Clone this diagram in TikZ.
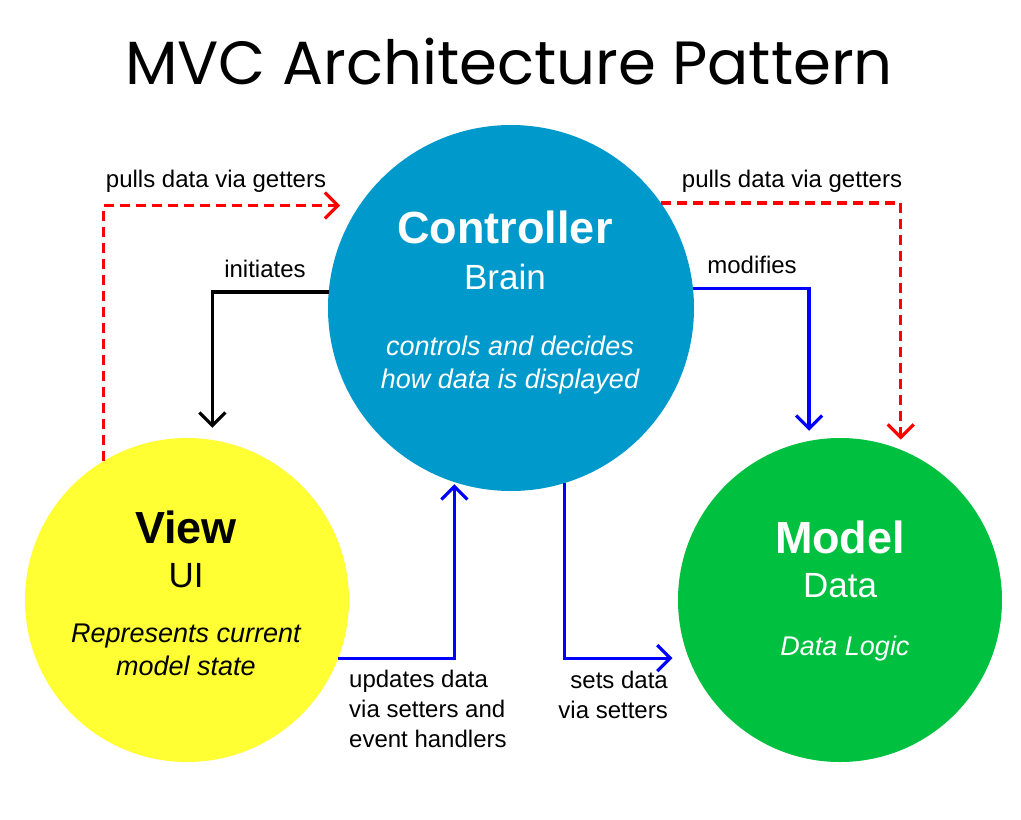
\documentclass[tikz,border=0pt]{standalone}
\usepackage{fontspec}
\setmainfont{Liberation Sans}
\newfontfamily\titlefont{Poppins}
\usetikzlibrary{arrows.meta}
\definecolor{ctrlblue}{RGB}{0,153,204}
\definecolor{viewyellow}{RGB}{255,255,51}
\definecolor{modelgreen}{RGB}{0,192,64}
\definecolor{arrowblue}{RGB}{0,0,255}
\definecolor{arrowred}{RGB}{255,0,0}
\tikzset{
  blob/.style={circle, inner sep=0pt, draw=none},
  conn/.style={line width=3.2pt, -{Straight Barb[length=13pt,width=26pt]}},
  redconn/.style={conn, arrowred, dash pattern=on 10pt off 6pt},
  blueconn/.style={conn, arrowblue},
  blackconn/.style={conn, black},
  lbl/.style={font=\fontsize{24}{30}\selectfont, text=black, inner sep=0pt},
  bigname/.style={font=\fontsize{45}{50}\bfseries\selectfont, inner sep=0pt, anchor=base},
  subname/.style={font=\fontsize{35}{40}\selectfont, inner sep=0pt, anchor=base},
  desc/.style={font=\fontsize{27}{33}\itshape\selectfont, inner sep=0pt, anchor=base, align=center},
}
\begin{document}
\begin{tikzpicture}[x=1pt,y=-1pt]
\useasboundingbox (0,0) rectangle (1021,820);
\fill[white] (0,0) rectangle (1021,820);

\node[font=\titlefont\fontsize{61}{64}\selectfont, anchor=base, inner sep=0pt] (title) at (509,84) {MVC Architecture Pattern};

\node[blob, fill=ctrlblue, minimum size=366pt] (C) at (511,308) {};
\node[blob, fill=viewyellow, minimum size=324pt] (V) at (187,600) {};
\node[blob, fill=modelgreen, minimum size=324pt] (M) at (840,600) {};

% Controller text
\node[bigname, text=white] (ct1) at (505,243) {Controller};
\node[subname, text=white] (ct2) at (505,289) {Brain};
\node[desc, text=white] (ct3) at (510,388) {controls and decides\\how data is displayed};
% View text
\node[bigname, text=black] (vt1) at (186,543) {View};
\node[subname, text=black] (vt2) at (186,587) {UI};
\node[desc, text=black] (vt3) at (186,675) {Represents current\\model state};
% Model text
\node[bigname, text=white] (mt1) at (840,553) {Model};
\node[subname, text=white] (mt2) at (840,597) {Data};
\node[desc, text=white] (mt3) at (845,655) {Data Logic};

% connectors
\draw[redconn, shorten >=19pt] (V.121.6) |- (C.146);
\draw[redconn, shorten >=10pt] (C.35) -| (M.68.3);
\draw[blackconn, shorten >=12pt] (C.175) -| (V.81.1);
\draw[blueconn, shorten >=10pt] (C.6) -| (M.101.4);
\draw[blueconn, shorten >=2pt] (V.-21) -| (C.-108.8);
\draw[blueconn, shorten >=16pt] (C.-73.2) |- (M.201);

% labels
\node[lbl, anchor=base] (l1) at (216,187) {pulls data via getters};
\node[lbl, anchor=base] (l2) at (792,187) {pulls data via getters};
\node[lbl, anchor=base] (l3) at (265,277) {initiates};
\node[lbl, anchor=base] (l4) at (752,273) {modifies};
\node[lbl, anchor=base west, align=left] (l5) at (349,747) {updates data\\via setters and\\event handlers};
\node[lbl, anchor=base east, align=right] (l6) at (668,718) {sets data\\via setters};
\end{tikzpicture}
\end{document}
